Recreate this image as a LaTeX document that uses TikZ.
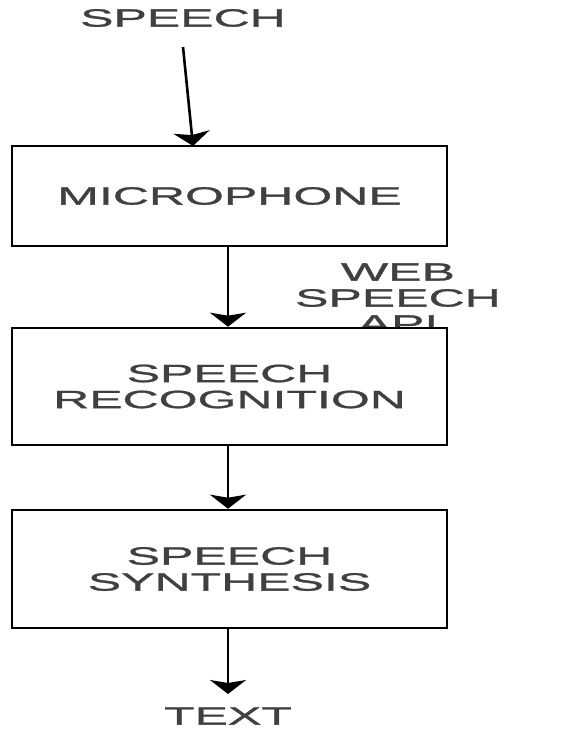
\documentclass[tikz,border=0pt]{standalone}
\usepackage{fontspec}
\setmainfont{Liberation Sans}
\newfontfamily\widefont[FakeStretch=2.0,FakeBold=1.2]{Liberation Sans}
\usetikzlibrary{arrows.meta}
\begin{document}
\begin{tikzpicture}[x=1pt,y=-1pt,
  lbl/.style={font=\widefont\fontsize{25}{26}\selectfont, text=black!75, inner sep=0pt, align=center},
  stage/.style={lbl, draw=black, line width=2.6pt, fill=white, minimum width=435pt},
  arr/.style={line width=2.6pt, -{Stealth[width=36pt,length=14pt,inset=3pt]}}]
\useasboundingbox (0,0) rectangle (561,730);

% input and output labels
\node[lbl] (speech) at (183,18) {SPEECH};
\node[lbl] (text) at (228,716) {TEXT};

% API label, partly covered by the recognition stage
\node[lbl] (api) at (398,298) {WEB\\SPEECH\\API};

% processing stages
\node[stage, minimum height=100pt] (mic) at (229.5,196) {MICROPHONE};
\node[stage, minimum height=117pt] (rec) at (229.5,386.5) {SPEECH\\RECOGNITION};
\node[stage, minimum height=118pt] (syn) at (229.5,569) {SPEECH\\SYNTHESIS};

% connectors
\coordinate (speechout) at (183,47);
\coordinate (micin) at (193,146);
\coordinate (textin) at (228,694);
\draw[arr] (speechout) -- (micin);
\draw[arr] (mic.south -| 228,0) -- (rec.north -| 228,0);
\draw[arr] (rec.south -| 228,0) -- (syn.north -| 228,0);
\draw[arr] (syn.south -| 228,0) -- (textin);
\end{tikzpicture}
\end{document}
